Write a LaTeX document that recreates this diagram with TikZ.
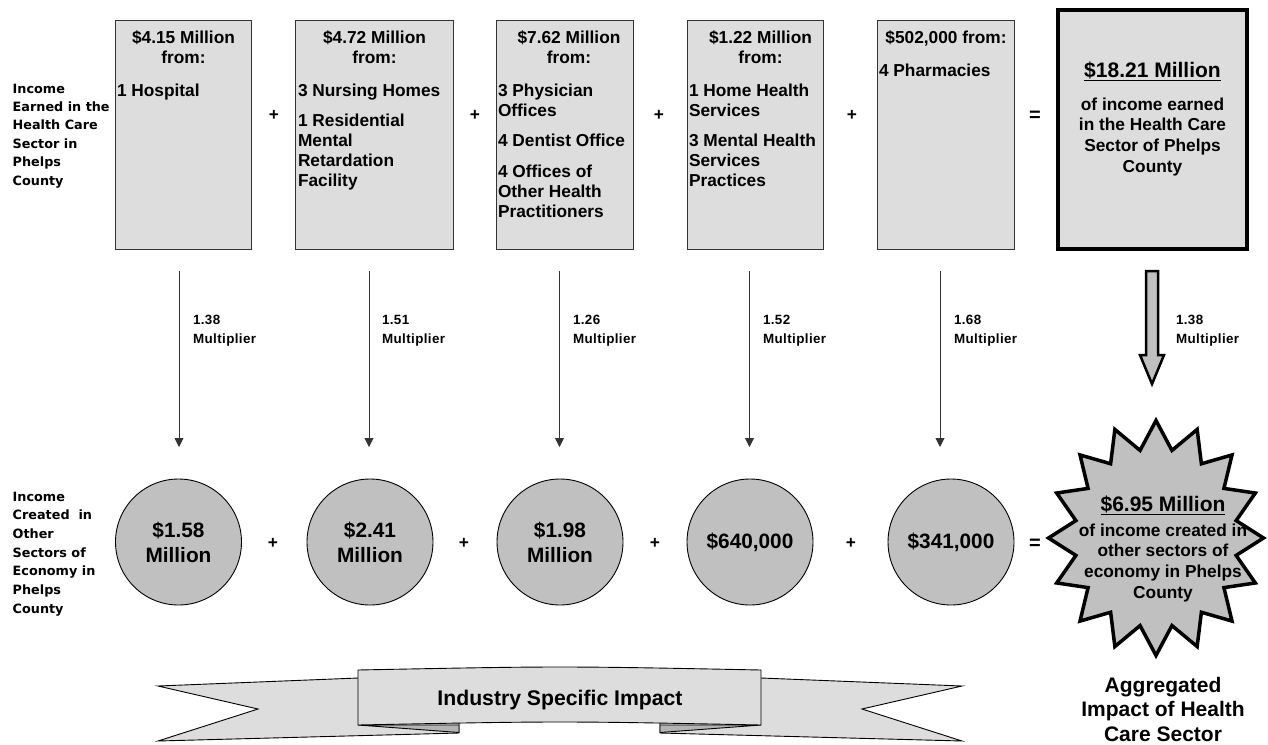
\documentclass[tikz,border=0pt]{standalone}
\usepackage{fontspec}
\setmainfont{Liberation Sans}
\newfontfamily\lblfont{DejaVu Sans}
\newfontfamily\multfont[LetterSpace=3]{Liberation Sans}
\usetikzlibrary{arrows.meta,calc}
\definecolor{boxgray}{HTML}{DDDDDD}
\definecolor{circgray}{HTML}{C0C0C0}
\definecolor{foldgray}{HTML}{B4B4B4}
\definecolor{edgec}{HTML}{333333}
\newcommand{\bxtext}[3]{\parbox[t]{#1}{{\centering #2\par}\vspace{13pt}\raggedright #3\par}}
\newcommand{\nxitem}{\par\vspace{10.5pt}}
\tikzset{
  box/.style={rectangle, draw=edgec, line width=1.2pt, fill=boxgray, inner sep=0pt, minimum width=#1, minimum height=229pt},
  bigbox/.style={rectangle, draw=black, line width=4pt, fill=boxgray, inner sep=0pt, minimum width=189pt, minimum height=239pt},
  circ/.style={circle, draw=black, line width=0.9pt, fill=circgray, minimum size=126pt, inner sep=0pt, align=center, font=\fontsize{20.8}{25}\selectfont\bfseries},
  plain/.style={inner sep=0pt, outer sep=0pt},
  boxtxt/.style={plain, anchor=base west, font=\fontsize{17.3}{20}\selectfont\bfseries},
  bigtxt/.style={plain, anchor=base, font=\fontsize{17.3}{20.8}\selectfont\bfseries},
  sidelbl/.style={plain, anchor=base west, font=\lblfont\bfseries\fontsize{12.8}{#1}\selectfont},
  multlbl/.style={plain, anchor=base west, font=\multfont\bfseries\fontsize{13.4}{19}\selectfont},
  op/.style={plain, font=\fontsize{17.3}{20}\selectfont\bfseries},
  eqop/.style={plain, font=\fontsize{20}{22}\selectfont\bfseries},
  arr/.style={draw=edgec, line width=0.9pt, -{Triangle[width=9pt,length=9pt]}},
  blockarrow/.style={draw=black, line width=2.5pt, fill=circgray, line join=miter},
  starsty/.style={draw=black, line width=3.5pt, fill=circgray, line join=miter, miter limit=10},
  ribbon/.style={draw=black, line width=0.9pt, fill=boxgray, line join=miter},
  fold/.style={draw=black, line width=0.9pt, fill=foldgray, line join=miter},
  ribtxt/.style={plain, anchor=base, font=\fontsize{21.2}{24}\selectfont\bfseries},
  aggtxt/.style={plain, anchor=base, font=\fontsize{21}{24.5}\selectfont\bfseries},
}
\begin{document}
\begin{tikzpicture}[x=1pt,y=-1pt]
\useasboundingbox (0,0) rectangle (1268,744);

% side labels
\node[sidelbl=18.4] (lblTop) at (12.7,93) {\parbox[t]{100pt}{\raggedright Income\\Earned in the\\Health Care\\Sector in\\Phelps\\County}};
\node[sidelbl=18.67] (lblBot) at (12.7,501) {\parbox[t]{100pt}{\raggedright Income\\Created\ \ in\\Other\\Sectors of\\Economy in\\Phelps\\County}};

% top boxes
\node[box=135.8pt] (b1) at (183.5,135) {};
\node[box=157.8pt] (b2) at (374.5,135) {};
\node[box=136.8pt] (b3) at (565,135) {};
\node[box=135.8pt] (b4) at (755.5,135) {};
\node[box=136.8pt] (b5) at (946,135) {};
\node[bigbox] (big) at (1152.5,129.5) {};

\node[boxtxt] (t1) at (117,43) {\bxtext{133pt}{\$4.15 Million\\from:}{1 Hospital}};
\node[boxtxt] (t2) at (298,43) {\bxtext{153pt}{\$4.72 Million\\from:}{3 Nursing Homes\nxitem 1 Residential\\Mental\\Retardation\\Facility}};
\node[boxtxt] (t3) at (498,43) {\bxtext{142pt}{\$7.62 Million\\from:}{3 Physician\\Offices\nxitem 4 Dentist Office\nxitem 4 Offices of\\Other Health\\Practitioners}};
\node[boxtxt] (t4) at (689,43) {\bxtext{143pt}{\$1.22 Million\\from:}{1 Home Health\\Services\nxitem 3 Mental Health\\Services\\Practices}};
\node[boxtxt] (t5) at (879,43) {\bxtext{134pt}{\$502,000 from:}{4 Pharmacies}};
\node[bigtxt] (bigt) at (1152.5,77) {\parbox[t]{185pt}{\centering{\fontsize{21}{24}\selectfont\underline{\$18.21 Million}\par}\vspace{12.2pt}of income earned\\in the Health Care\\Sector of Phelps\\County\par}};

% operators top
\node[op] (p1) at (274,115) {+};
\node[op] (p2) at (475,115) {+};
\node[op] (p3) at (659,115) {+};
\node[op] (p4) at (852,115) {+};
\node[eqop] (eq1) at (1035,116) {=};

% arrows
\foreach \i/\x in {1/179,2/369,3/559.5,4/749.5,5/940}{
  \coordinate (s\i) at (\x,271);
  \coordinate (e\i) at (\x,447);
  \draw[arr] (s\i) -- (e\i);
}
\node[multlbl] (m1) at (193,324) {\parbox[t]{80pt}{\raggedright 1.38\\Multiplier}};
\node[multlbl] (m2) at (382,324) {\parbox[t]{80pt}{\raggedright 1.51\\Multiplier}};
\node[multlbl] (m3) at (573,324) {\parbox[t]{80pt}{\raggedright 1.26\\Multiplier}};
\node[multlbl] (m4) at (763,324) {\parbox[t]{80pt}{\raggedright 1.52\\Multiplier}};
\node[multlbl] (m5) at (954,324) {\parbox[t]{80pt}{\raggedright 1.68\\Multiplier}};
\node[multlbl] (m6) at (1176,324) {\parbox[t]{80pt}{\raggedright 1.38\\Multiplier}};

% block arrow
\draw[blockarrow] (1146,271) -- (1158,271) -- (1158,355) -- (1164,355) -- (1152,384) -- (1140,355) -- (1146,355) -- cycle;

% circles
\node[circ] (c1) at (178.5,542) {\$1.58\\Million};
\node[circ] (c2) at (370,542) {\$2.41\\Million};
\node[circ] (c3) at (560,542) {\$1.98\\Million};
\node[circ] (c4) at (750,542) {\$640,000};
\node[circ] (c5) at (951,542) {\$341,000};

\node[op] (q1) at (273,543) {+};
\node[op] (q2) at (464,543) {+};
\node[op] (q3) at (655,543) {+};
\node[op] (q4) at (851,543) {+};
\node[eqop] (eq2) at (1035,544) {=};

% star
\draw[starsty] (1156,420.5) \foreach \k [evaluate=\k as \f using {1-0.24*mod(\k,2)}] in {1,...,31} { -- ({1156+107.5*\f*sin(\k*11.25)},{538-117.5*\f*cos(\k*11.25)}) } -- cycle;
\node[bigtxt] (start) at (1163,511) {\parbox[t]{210pt}{\centering{\fontsize{21}{24}\selectfont\underline{\$6.95 Million}\par}\vspace{4.3pt}of income created in\\other sectors of\\economy in Phelps\\County\par}};

\node[aggtxt] (agg) at (1163,692) {\parbox[t]{200pt}{\centering Aggregated\\Impact of Health\\Care Sector}};

% ribbon
\draw[ribbon] (158,686) -- (358,678) -- (459,676) -- (459,733) -- (158,741) -- (258,709) -- cycle;
\draw[ribbon] (962,686) -- (761,678) -- (660,676) -- (660,733) -- (962,741) -- (862,709) -- cycle;
\draw[fold] (358,725) -- (459,725) -- (459,732.5) -- cycle;
\draw[fold] (761,725) -- (660,725) -- (660,732.5) -- cycle;
\draw[ribbon] (358,670) .. controls (560,666) .. (761,670) -- (761,725) .. controls (560,721) .. (358,725) -- cycle;
\node[ribtxt] (rib) at (560,705) {Industry Specific Impact};
\end{tikzpicture}
\end{document}
